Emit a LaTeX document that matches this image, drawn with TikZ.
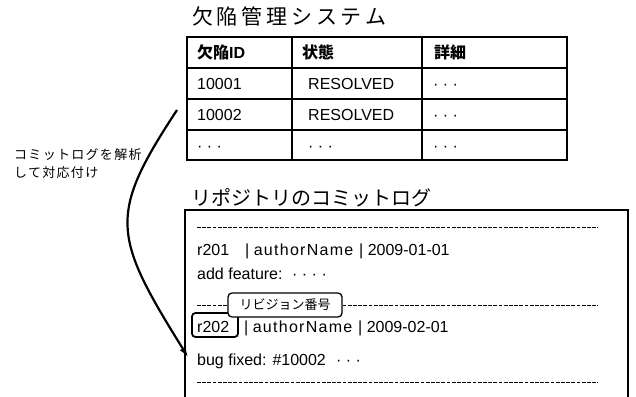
\documentclass[tikz,border=0pt]{standalone}
\usepackage{fontspec}
\setmainfont{Liberation Sans}
\newfontfamily\jp{Noto Sans CJK JP}
\newfontfamily\jpwide[LetterSpace=18]{Noto Sans CJK JP}
\newfontfamily\jplab[LetterSpace=10]{Noto Sans CJK JP}
\newfontfamily\latwide[LetterSpace=8]{Liberation Sans}
\usetikzlibrary{arrows.meta}
\tikzset{
  txt/.style={anchor=base west, inner sep=0pt, font=\fontsize{16}{19}\selectfont},
  title/.style={anchor=base west, inner sep=0pt},
  tbl/.style={line width=1.6pt},
  logbox/.style={line width=1.5pt},
  sep/.style={line width=1pt, dash pattern=on 3.8pt off 1.4pt},
  rbox/.style={line width=1.8pt, rounded corners=3.5pt},
  callout/.style={draw, line width=1.3pt, fill=white, rounded corners=4pt,
    minimum width=114pt, minimum height=24pt, inner sep=0pt,
    font=\fontsize{13}{15}\selectfont\jp},
  link/.style={line width=2.2pt, -{Latex[length=10pt,width=7pt]}},
}
\begin{document}
\begin{tikzpicture}[x=1pt,y=-1pt]
\useasboundingbox (0,0) rectangle (636,396);

% ---- defect management system ----
\node[title, font=\fontsize{21}{24}\selectfont\jpwide] (t1) at (192,25) {欠陥管理システム};
\draw[tbl] (187,37) rectangle (567,160);
\draw[tbl] (187,68) -- (567,68) (187,99) -- (567,99) (187,130) -- (567,130)
           (292,37) -- (292,160) (422,37) -- (422,160);
\node[txt] (h1) at (197,58.5) {{\jp\bfseries 欠陥}\textbf{ID}};
\node[txt] (h2) at (302,58.5) {\jp\bfseries 状態};
\node[txt] (h3) at (434,58.5) {\jp\bfseries 詳細};
\node[txt] (c11) at (197,89.5) {10001};
\node[txt] (c12) at (308,89.5) {RESOLVED};
\node[txt] (c13) at (433,89.5) {· · ·};
\node[txt] (c21) at (197,120.5) {10002};
\node[txt] (c22) at (308,120.5) {RESOLVED};
\node[txt] (c23) at (433,120.5) {· · ·};
\node[txt] (c31) at (197,151) {· · ·};
\node[txt] (c32) at (308,151) {· · ·};
\node[txt] (c33) at (433,151) {· · ·};

% ---- repository commit log ----
\node[title, font=\fontsize{20}{24}\selectfont\jp] (t2) at (191,205) {リポジトリのコミットログ};
\draw[logbox] (185,397) -- (185,210) -- (628,210) -- (628,397);
\draw[sep] (197,227) -- (598,227);
\draw[sep] (197,305) -- (598,305);
\draw[sep] (197,382) -- (598,382);

\node[txt] (r201) at (197,255) {r201};
\node[txt] (a1) at (245,255) {| {\latwide authorName}};
\node[txt] (d1) at (359,255) {| 2009-01-01};
\node[txt] (add) at (197,279) {add feature:};
\node[txt] (dots1) at (292,279) {· · · ·};

\node[txt] (r202) at (197,332) {r202};
\node[txt] (a2) at (244,332) {| {\latwide authorName}};
\node[txt] (d2) at (358,332) {| 2009-02-01};
\node[txt] (bug) at (197,365) {bug fixed: \#10002};
\node[txt] (dots2) at (336,365) {· · ·};

\draw[rbox] (192,313) rectangle (238,337);
\node[callout] (rev) at (285,305) {リビジョン番号};

% ---- annotation and connector ----
\node[anchor=north west, inner sep=0pt, align=left,
      font=\fontsize{13}{18}\selectfont\jplab] (lab) at (14,148.5)
      {コミットログを解析\\して対応付け};
\coordinate (src) at (177,110);
\draw[link] (src) .. controls (108,215) and (112,235) .. ([xshift=-9pt,yshift=8pt]bug.base west);
\end{tikzpicture}
\end{document}
